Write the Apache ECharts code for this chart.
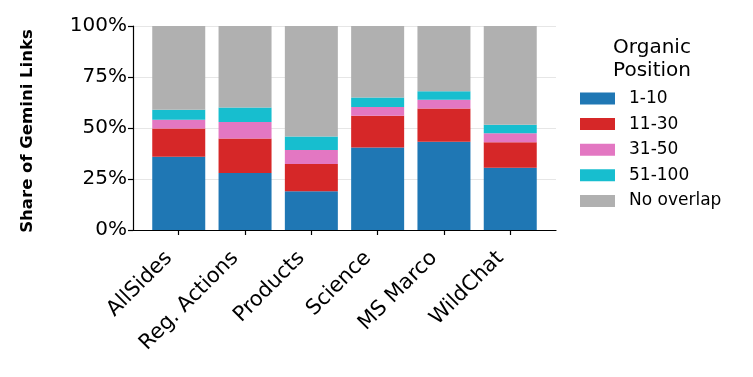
<!DOCTYPE html>
<html>
<head>
<meta charset="utf-8">
<script src="https://cdn.jsdelivr.net/npm/echarts@6/dist/echarts.min.js"></script>
<style>
  html, body { margin: 0; padding: 0; background: #fff; }
  #chart { width: 753px; height: 377px; }
</style>
</head>
<body>
<div id="chart"></div>
<script>
// categories along x
const categories = ['AllSides', 'Reg. Actions', 'Products', 'Science', 'MS Marco', 'WildChat']
// share of Gemini links per organic position bucket (%)
const pos1to10 = [35.9, 27.9, 19.0, 40.4, 43.3, 30.5]
const pos11to30 = [13.8, 16.9, 13.4, 15.6, 16.2, 12.5]
const pos31to50 = [4.4, 8.1, 6.8, 4.3, 4.4, 4.4]
const pos51to100 = [4.9, 7.2, 6.6, 4.6, 4.1, 4.2]
const noOverlap = [41.0, 39.9, 54.2, 35.1, 32.0, 48.4]
const yTicks = [0, 25, 50, 75, 100]

const seriesDefs = [
  { name: '1-10', data: pos1to10, color: '#1f77b4' },
  { name: '11-30', data: pos11to30, color: '#d62728' },
  { name: '31-50', data: pos31to50, color: '#e377c2' },
  { name: '51-100', data: pos51to100, color: '#17becf' },
  { name: 'No overlap', data: noOverlap, color: '#b0b0b0' }
]
const catIdx = categories.map((c, i) => i)
const font = 'DejaVu Sans'

const chart = echarts.init(document.getElementById('chart'))
chart.setOption({
  animation: false,
  textStyle: { fontFamily: font },
  title: {
    text: 'Organic\nPosition',
    left: 647,
    top: 31,
    textAlign: 'center',
    textStyle: { fontFamily: font, fontSize: 20, fontWeight: 'normal', color: '#000', lineHeight: 23.5 }
  },
  legend: {
    orient: 'vertical',
    left: 580,
    top: 90,
    padding: 0,
    itemWidth: 35,
    itemHeight: 12,
    itemGap: 8.6,
    icon: 'rect',
    selectedMode: false,
    textStyle: { fontFamily: font, fontSize: 17, color: '#000', padding: [0, 0, 0, 9] },
    data: seriesDefs.map(s => s.name)
  },
  grid: { left: 133, right: 197, top: 26, bottom: 147 },
  xAxis: {
    type: 'value',
    min: -0.69,
    max: 5.69,
    splitLine: { show: false },
    axisLine: { onZero: false, lineStyle: { color: '#000', width: 1.2 } },
    axisTick: { show: true, length: 5, customValues: catIdx, lineStyle: { color: '#000', width: 1.2 } },
    axisLabel: {
      customValues: catIdx,
      rotate: 45,
      fontSize: 21,
      color: '#000',
      margin: 15,
      padding: [0, 14, 0, 0],
      fontFamily: font,
      formatter: v => categories[Math.round(v)]
    }
  },
  yAxis: {
    type: 'value',
    min: 0,
    max: 100,
    interval: 25,
    name: 'Share of Gemini Links',
    nameLocation: 'middle',
    nameGap: 97,
    nameTextStyle: { fontFamily: font, fontSize: 16.5, fontWeight: 'bold', color: '#000', padding: [0, 6, 0, 0] },
    axisLine: { show: true, onZero: false, lineStyle: { color: '#000', width: 1.2 } },
    axisTick: { show: true, length: 5, lineStyle: { color: '#000', width: 1.2 } },
    axisLabel: { fontSize: 20, color: '#000', margin: 6, fontFamily: font, formatter: v => yTicks.includes(v) ? v + '%' : '' },
    splitLine: { show: true, lineStyle: { color: '#e6e6e6', width: 1.2 } }
  },
  series: seriesDefs.map(s => ({
    name: s.name,
    type: 'bar',
    stack: 'total',
    barWidth: 53,
    itemStyle: { color: s.color },
    // value first so the stack runs on y, category index second
    encode: { x: 1, y: 0 },
    data: s.data.map((v, i) => [v, i])
  }))
})
</script>
</body>
</html>
